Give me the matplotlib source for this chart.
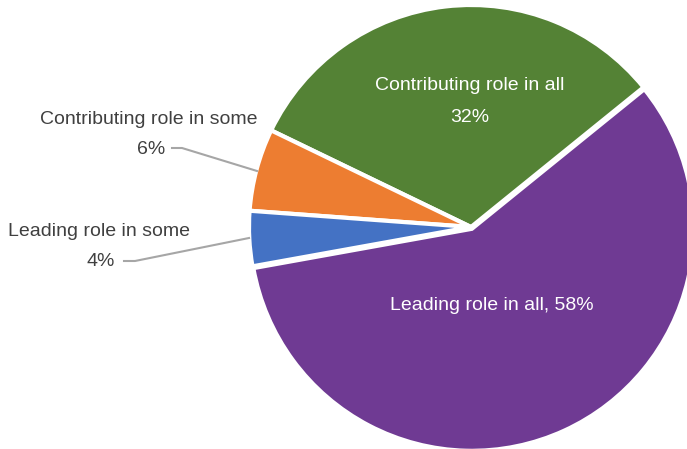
import matplotlib.pyplot as plt
import numpy as np

# Share of roles in all / some projects
roles = ["Contributing role in all", "Contributing role in some",
         "Leading role in some", "Leading role in all"]
shares = [32, 6, 4, 58]
colors = ["#548235", "#ED7D31", "#4472C4", "#6F3A93"]

plt.rcParams['font.family'] = ['Liberation Sans', 'DejaVu Sans']

W, H = 687, 449
fig = plt.figure(figsize=(W / 100, H / 100), dpi=100)
ax = fig.add_axes([0, 0, 1, 1])
ax.set_xlim(0, W)
ax.set_ylim(0, H)
ax.set_aspect('equal')
ax.axis('off')

cx, cy, r = 471, H - 227, 222
wedges, _ = ax.pie(shares, colors=colors, startangle=39, counterclock=True,
                   center=(cx, cy), radius=r, explode=[0, 0, 0, 2],
                   wedgeprops=dict(edgecolor='white', linewidth=3))
ax.set_xlim(0, W)
ax.set_ylim(0, H)

fs = 14
# labels inside the two large slices
ax.text(470, H - 86, roles[0], ha='center', va='center', color='white', fontsize=fs)
ax.text(470, H - 117, f"{shares[0]}%", ha='center', va='center', color='white', fontsize=fs)
ax.text(492, H - 305, f"{roles[3]}, {shares[3]}%", ha='center', va='center',
        color='white', fontsize=fs)

# outside labels with leader lines
txt_col = '#404040'
line_col = '#A6A6A6'
ax.text(257, H - 120, roles[1], ha='right', va='center', color=txt_col, fontsize=fs)
ax.text(165, H - 150, f"{shares[1]}%", ha='right', va='center', color=txt_col, fontsize=fs)
ax.plot([172, 182, 257], [H - 148, H - 148, H - 171], color=line_col, lw=1.5)

ax.text(190, H - 232, roles[2], ha='right', va='center', color=txt_col, fontsize=fs)
ax.text(115, H - 262, f"{shares[2]}%", ha='right', va='center', color=txt_col, fontsize=fs)
ax.plot([124, 135, 249], [H - 261, H - 261, H - 238], color=line_col, lw=1.5)

fig.savefig('out.png', dpi=100)
